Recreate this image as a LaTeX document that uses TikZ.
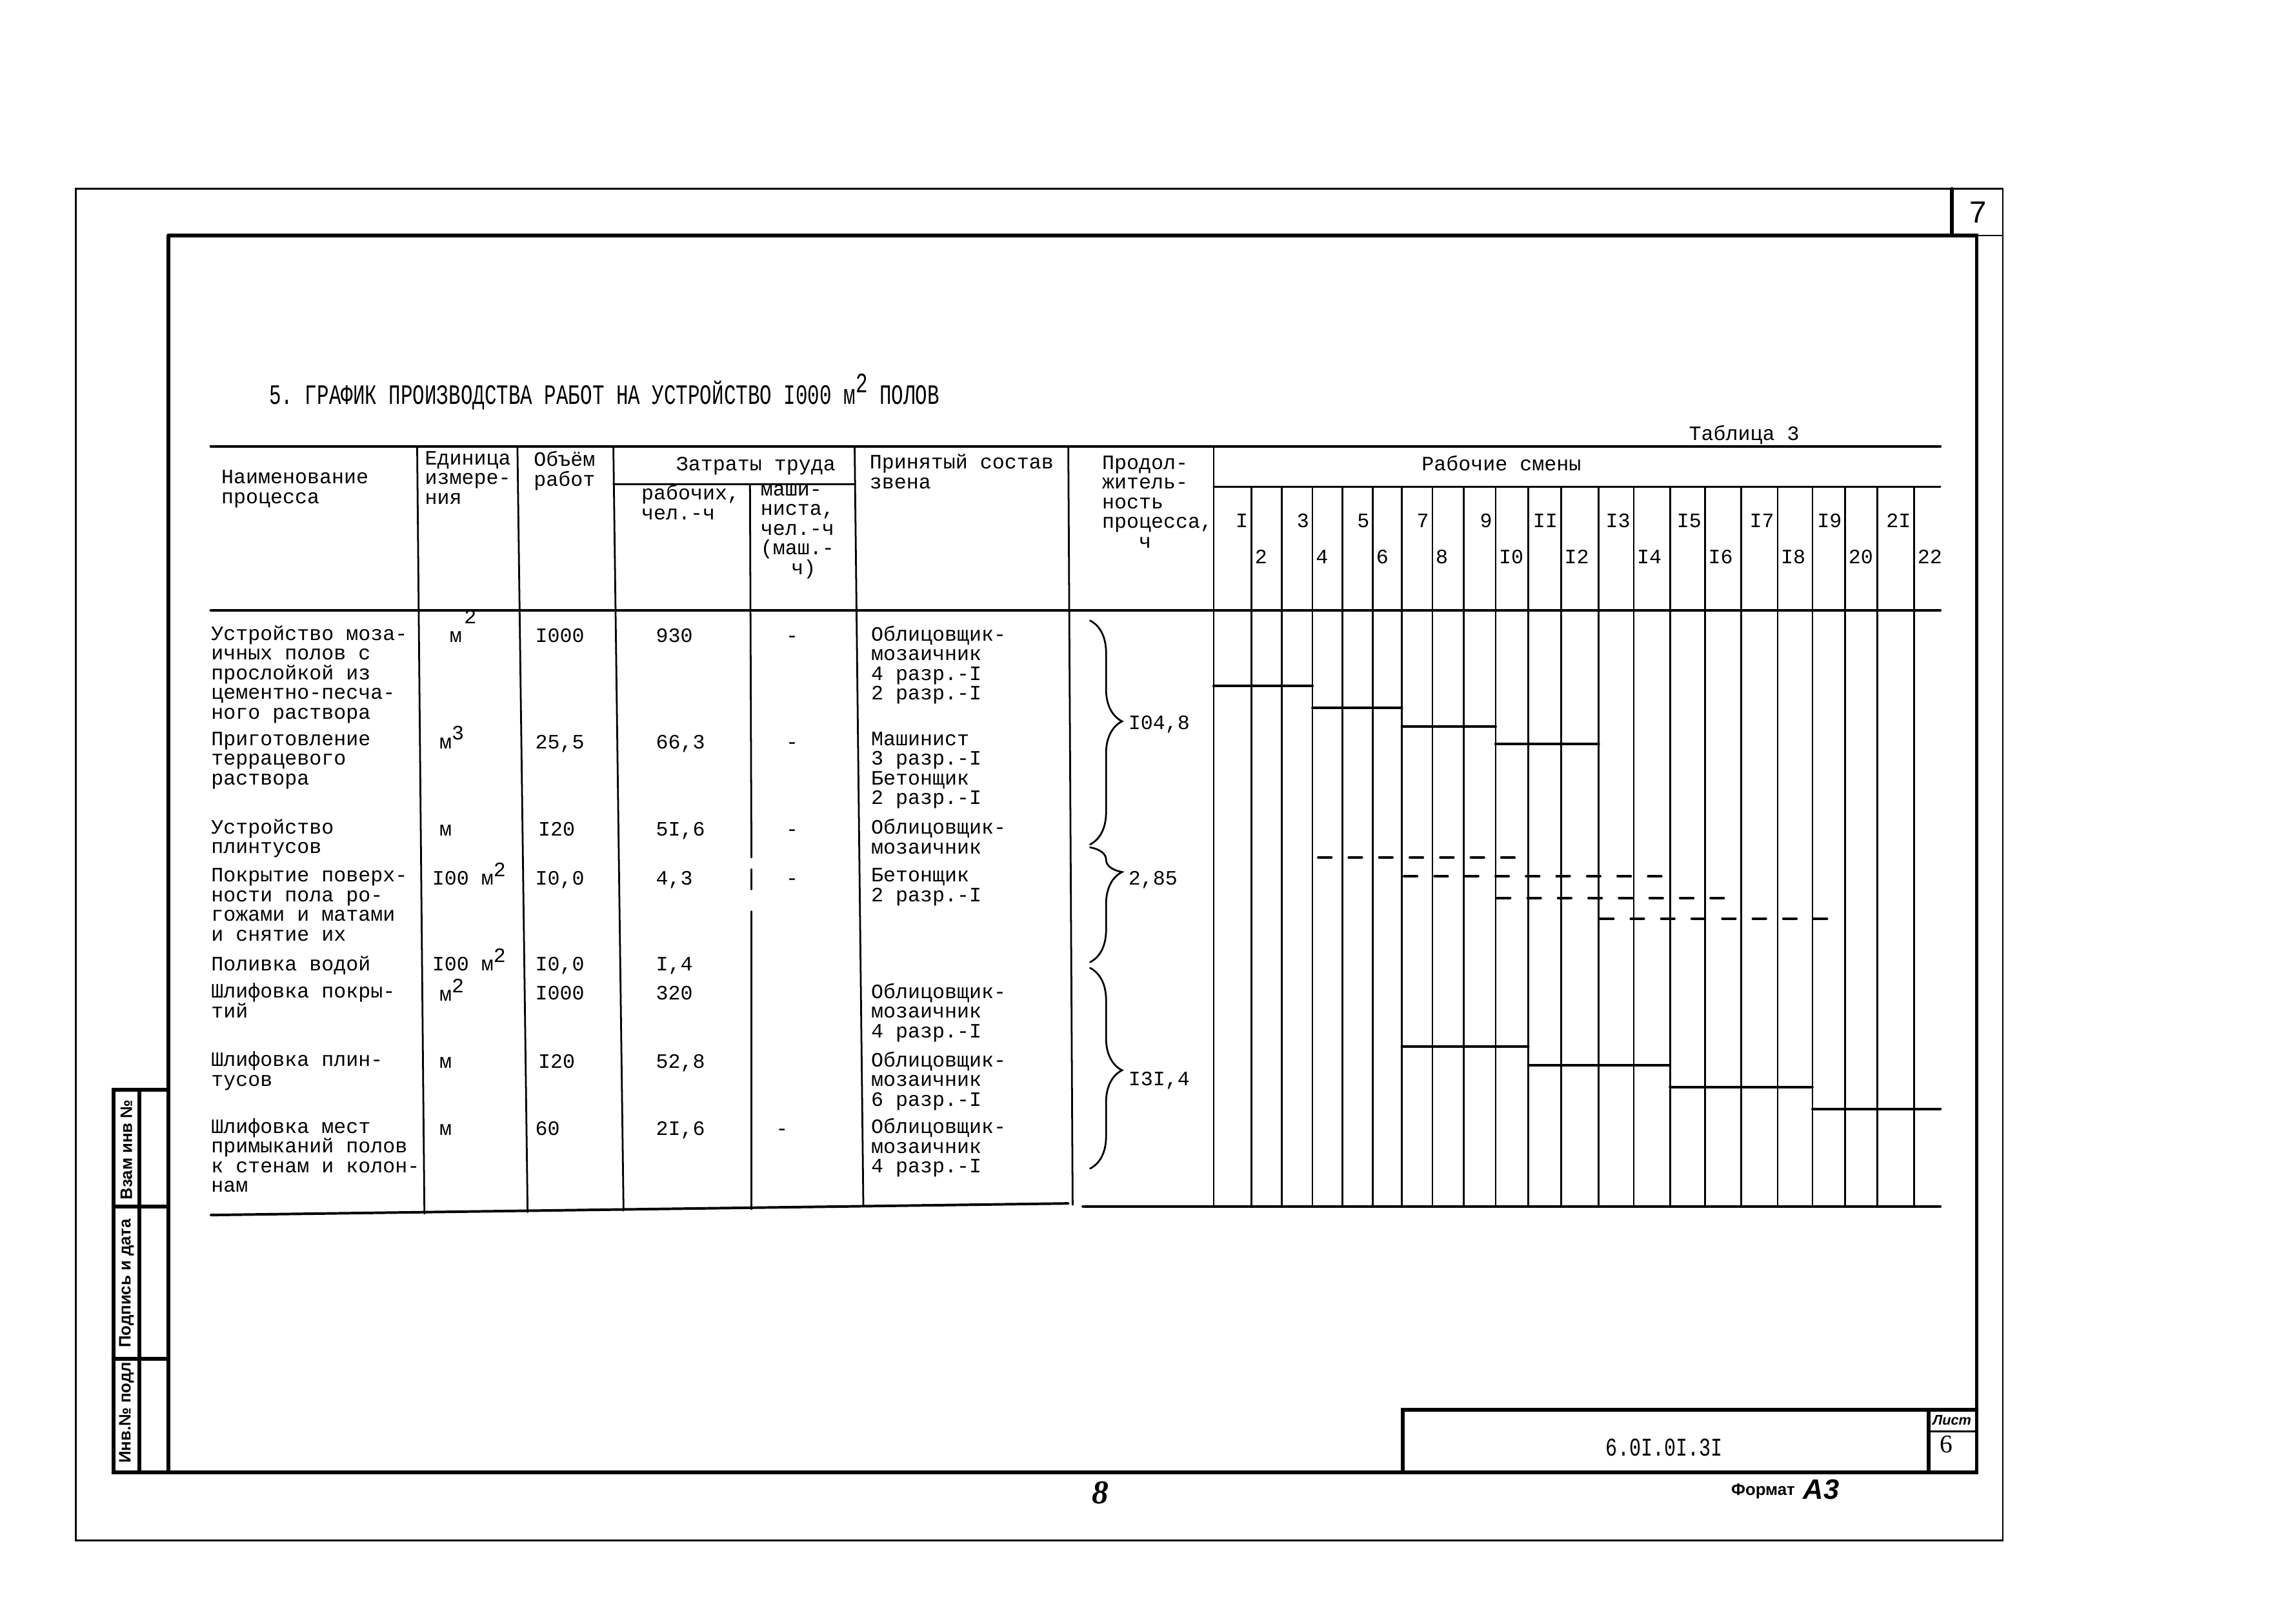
\documentclass[tikz,border=0pt]{standalone}
\usepackage{fontspec}
\setmainfont{Liberation Serif}
\setsansfont{Liberation Sans}
\setmonofont{Liberation Mono}
\usetikzlibrary{decorations.pathreplacing}

\newcommand\tabfont{\ttfamily\fontsize{8}{7.7}\selectfont}
\newcommand\cellstrut{\rule{0pt}{6.5pt}}
\newcommand\hi[1]{\smash{\raisebox{0.8ex}{#1}}}

\tikzset{
  frame/.style={line width=1.5pt},
  thinframe/.style={line width=0.7pt},
  rule/.style={line width=1pt},
  col/.style={line width=0.7pt},
  bar/.style={line width=1pt},
  dashbar/.style={line width=1pt, dash pattern=on 0.18cm off 0.24cm},
  cell/.style={font=\tabfont, anchor=north west, inner sep=0pt, align=left,
    execute at begin node=\cellstrut, yshift=0.136cm},
  ccell/.style={cell, anchor=north, align=center},
  strip/.style={font=\sffamily\bfseries\fontsize{6.5}{7}\selectfont, rotate=90, inner sep=0pt},
  curly/.style={decorate, decoration={brace, amplitude=0.44cm, aspect=#1}, line width=0.7pt}
}

\begin{document}
\begin{tikzpicture}[x=0.02cm, y=-0.02cm, line cap=round]
  \useasboundingbox (0,0) rectangle (1568,1117);

  % sheet frames
  \draw[thinframe] (52,130) -- (1378,130) -- (1378,1060) -- (52,1060) -- cycle;
  \draw[frame] (116,162) -- (1360,162) -- (1360,1013) -- (78,1013);
  \draw[frame] (116,162) -- (116,1013);
  \draw[frame] (1343,130) -- (1343,162);
  \draw[thinframe] (1343,162) -- (1378,162);
  \node[font=\sffamily\fontsize{12}{12}\selectfont, inner sep=0pt] (sheetno) at (1361,146) {7};

  % side strip
  \draw[frame] (78,750) rectangle (116,1013);
  \draw[frame] (96,750) -- (96,1013);
  \draw[frame] (78,830) -- (116,830);
  \draw[frame] (78,935) -- (116,935);
  \node[strip] (vzam) at (87,791) {Взам инв №};
  \node[strip] (podp) at (87,883) {Подпись и дата};
  \node[strip] (invn) at (87,972) {Инв.№ подл};

  % title block
  \draw[frame] (965,1013) -- (965,970) -- (1360,970);
  \draw[frame] (1327,970) -- (1327,1013);
  \draw[col] (1327,985) -- (1360,985);
  \node[font=\ttfamily\fontsize{10}{10}\selectfont, xscale=0.76, inner sep=0pt] (code) at (1145,996) {6.0I.0I.3I};
  \node[font=\sffamily\bfseries\itshape\fontsize{5.5}{6}\selectfont, inner sep=0pt] (list) at (1343,977) {Лист};
  \node[font=\fontsize{10}{10}\selectfont, inner sep=0pt] (listno) at (1339,994) {6};
  \node[font=\bfseries\itshape\fontsize{13}{13}\selectfont, inner sep=0pt] (pg) at (757,1027) {8};
  \node[font=\sffamily\bfseries\fontsize{6.5}{7}\selectfont, inner sep=0pt] (fmt) at (1213,1026) {Формат};
  \node[font=\sffamily\bfseries\itshape\fontsize{11}{11}\selectfont, inner sep=0pt] (a3) at (1253,1025) {А3};

  % heading
  \node[font=\ttfamily\fontsize{11}{11}\selectfont, xscale=0.71, anchor=west, inner sep=0pt] (title) at (185,272)
    {5. ГРАФИК ПРОИЗВОДСТВА РАБОТ НА УСТРОЙСТВО I000 м\hi{2} ПОЛОВ};
  \node[ccell] (tab) at (1200,298) {Таблица 3};

  % table rules
  \draw[rule] (145,307) -- (1335,307);
  \draw[rule] (145,420) -- (1335,420);
  \draw[col] (422,333) -- (588,333);
  \draw[col] (835,335) -- (1335,335);
  \draw[rule] (145,836) -- (735,828);
  \draw[rule] (745,830) -- (1335,830);
  \draw[col] (287,307) -- (292,835);
  \draw[col] (356,307) -- (363,834);
  \draw[col] (422,307) -- (429,833);
  \draw[col] (516,333) -- (517,590) (517,598) -- (517,612) (517,627) -- (517,832);
  \draw[col] (588,307) -- (594,830);
  \draw[col] (735,307) -- (738,829);

  % shift columns
  \foreach \x [count=\k from 0] in {835,861,882,903,923.5,944.5,964.5,985.5,1007,1029,1051.5,
      1074,1100,1124,1149,1173,1198,1223,1247,1269.5,1291.5,1317} {
    \coordinate (t\k) at (\x,335);
    \coordinate (b\k) at (\x,830);
    \draw[col] (t\k) -- (b\k);
  }
  \draw[col] (t0) -- (t0 |- 0,307);
  \foreach \n [count=\k] in {I,2,3,4,5,6,7,8,9,I0,II,I2,I3,I4,I5,I6,I7,I8,I9,20,2I,22} {
    \pgfmathtruncatemacro\odd{mod(\k,2)}
    \pgfmathtruncatemacro\j{\k-1}
    \ifnum\odd=1
      \node[cell, anchor=north east, xshift=-0.04cm] (s\k) at (t\k |- 0,358) {\n};
    \else
      \node[cell, xshift=0.04cm] (s\k) at (t\j |- 0,383) {\n};
    \fi
  }

  % header
  \node[cell] (h1) at (152,330) {Наименование\\процесса};
  \node[cell] (h2) at (292,317) {Единица\\измере-\\ния};
  \node[cell] (h3) at (367,317) {Объём\\работ};
  \node[ccell] (h4) at (520,319) {Затраты труда};
  \node[cell] (h5) at (441,340) {рабочих,\\чел.-ч};
  \node[cell] (h6) at (523,340) {маши-\\ниста,\\чел.-ч\\(маш.-\\\hspace*{1.5em}ч)};
  \node[cell] (h7) at (598,319) {Принятый состав\\звена};
  \node[cell] (h8) at (758,320) {Продол-\\житель-\\ность\\процесса,\\\hspace*{1.8em}ч};
  \node[ccell] (h9) at (1033,319) {Рабочие смены};

  % rows
  \node[cell] (n1) at (145,437) {Устройство моза-\\ичных полов с\\прослойкой из\\цементно-песча-\\ного раствора};
  \node[cell] (u1) at (309,437) {м};
  \node[cell] (u1e) at (319,424) {2};
  \node[cell] (v1) at (368,437) {I000};
  \node[cell] (w1) at (451,437) {930};
  \node[ccell] (m1) at (545,437) {-};
  \node[cell] (c1) at (599,437) {Облицовщик-\\мозаичник\\4 разр.-I\\2 разр.-I};

  \node[cell] (n2) at (145,510) {Приготовление\\террацевого\\раствора};
  \node[cell] (u2) at (302,510) {м\hi{3}};
  \node[cell] (v2) at (368,510) {25,5};
  \node[cell] (w2) at (451,510) {66,3};
  \node[ccell] (m2) at (545,510) {-};
  \node[cell] (c2) at (599,510) {Машинист\\3 разр.-I\\Бетонщик\\2 разр.-I};

  \node[cell] (n3) at (145,570) {Устройство\\плинтусов};
  \node[cell] (u3) at (302,570) {м};
  \node[cell] (v3) at (370,570) {I20};
  \node[cell] (w3) at (451,570) {5I,6};
  \node[ccell] (m3) at (545,570) {-};
  \node[cell] (c3) at (599,570) {Облицовщик-\\мозаичник};

  \node[cell] (n4) at (145,604) {Покрытие поверх-\\ности пола ро-\\гожами и матами\\и снятие их};
  \node[cell] (u4) at (297,604) {I00 м\hi{2}};
  \node[cell] (v4) at (368,604) {I0,0};
  \node[cell] (w4) at (451,604) {4,3};
  \node[ccell] (m4) at (545,604) {-};
  \node[cell] (c4) at (599,604) {Бетонщик\\2 разр.-I};

  \node[cell] (n5) at (145,663) {Поливка водой};
  \node[cell] (u5) at (297,663) {I00 м\hi{2}};
  \node[cell] (v5) at (368,663) {I0,0};
  \node[cell] (w5) at (451,663) {I,4};

  \node[cell] (n6) at (145,683) {Шлифовка покры-\\тий};
  \node[cell] (u6) at (302,684) {м\hi{2}};
  \node[cell] (v6) at (368,683) {I000};
  \node[cell] (w6) at (451,683) {320};
  \node[cell] (c6) at (599,683) {Облицовщик-\\мозаичник\\4 разр.-I};

  \node[cell] (n7) at (145,730) {Шлифовка плин-\\тусов};
  \node[cell] (u7) at (302,730) {м};
  \node[cell] (v7) at (370,730) {I20};
  \node[cell] (w7) at (451,730) {52,8};
  \node[cell] (c7) at (599,730) {Облицовщик-\\мозаичник\\6 разр.-I};

  \node[cell] (n8) at (145,776) {Шлифовка мест\\примыканий полов\\к стенам и колон-\\нам};
  \node[cell] (u8) at (302,776) {м};
  \node[cell] (v8) at (368,776) {60};
  \node[cell] (w8) at (451,776) {2I,6};
  \node[ccell] (m8) at (538,776) {-};
  \node[cell] (c8) at (599,776) {Облицовщик-\\мозаичник\\4 разр.-I};

  % durations
  \draw[curly=0.45] (750,427) -- (750,581);
  \node[cell] (d1) at (776,497) {I04,8};
  \draw[curly=0.215] (750,583) -- (750,662);
  \node[cell] (d2) at (776,604) {2,85};
  \draw[curly=0.51] (750,666) -- (750,804);
  \node[cell] (d3) at (776,742) {I3I,4};

  % schedule bars
  \draw[bar] (t0 |- 0,472) -- (t3 |- 0,472);
  \draw[bar] (t3 |- 0,487) -- (t6 |- 0,487);
  \draw[bar] (t6 |- 0,500) -- (t9 |- 0,500);
  \draw[bar] (t9 |- 0,512) -- (t12 |- 0,512);
  \draw[dashbar] (907,590) -- (1042,590);
  \draw[dashbar] (966,603) -- (1143,603);
  \draw[dashbar] (1030,618) -- (1186,618);
  \draw[dashbar] (1101,632) -- (1257,632);
  \draw[bar] (t6 |- 0,720) -- (t10 |- 0,720);
  \draw[bar] (t10 |- 0,733) -- (t14 |- 0,733);
  \draw[bar] (t14 |- 0,748) -- (t18 |- 0,748);
  \draw[bar] (t18 |- 0,763) -- (1335,763);
\end{tikzpicture}
\end{document}
